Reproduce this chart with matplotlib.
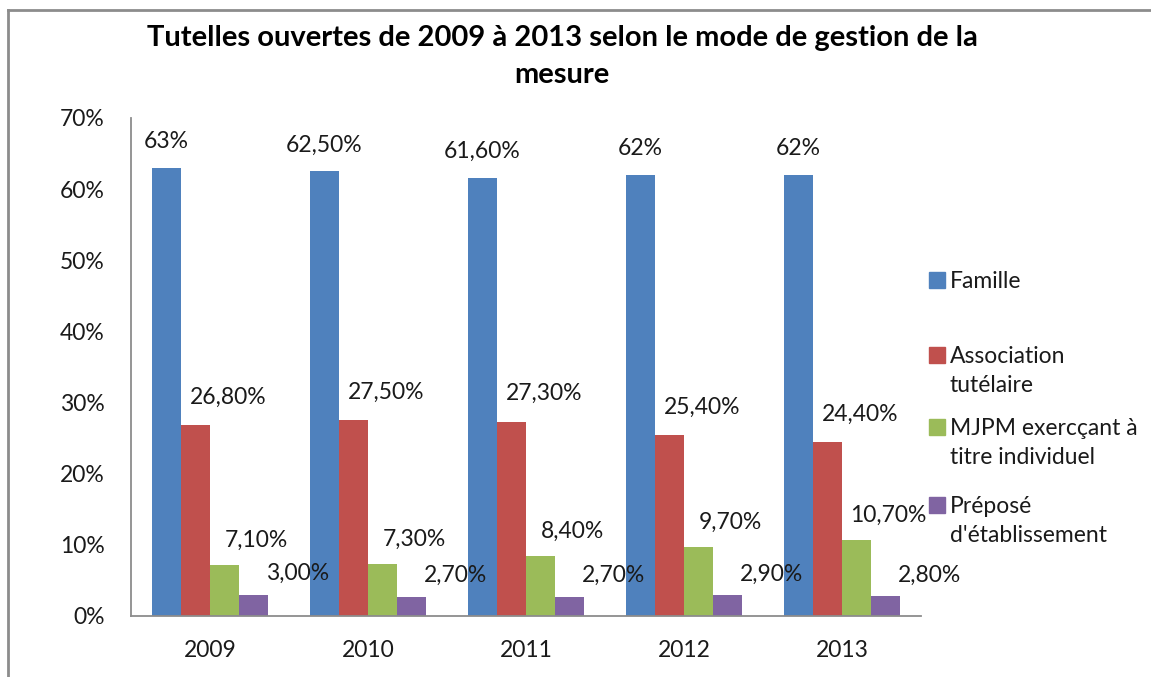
import matplotlib
matplotlib.use("Agg")
from matplotlib import pyplot as plt
from matplotlib.patches import Rectangle
from matplotlib.lines import Line2D
import numpy as np

plt.rcParams["font.family"] = ["Lato", "DejaVu Sans"]

# Donnees
years = ["2009", "2010", "2011", "2012", "2013"]
series = ["Famille", "Association\ntutélaire",
          "MJPM exercçant à\ntitre individuel", "Préposé\nd'établissement"]
famille = [63.0, 62.5, 61.6, 62.0, 62.0]
association = [26.8, 27.5, 27.3, 25.4, 24.4]
mjpm = [7.1, 7.3, 8.4, 9.7, 10.7]
prepose = [3.0, 2.7, 2.7, 2.9, 2.8]
labels = [
    ["63%", "62,50%", "61,60%", "62%", "62%"],
    ["26,80%", "27,50%", "27,30%", "25,40%", "24,40%"],
    ["7,10%", "7,30%", "8,40%", "9,70%", "10,70%"],
    ["3,00%", "2,70%", "2,70%", "2,90%", "2,80%"],
]
values = [famille, association, mjpm, prepose]
colors = ["#4F81BD", "#C0504D", "#9BBB59", "#8064A2"]

W, H = 1151, 677
fig = plt.figure(figsize=(W / 100, H / 100), dpi=100)
ax = fig.add_axes([131 / W, 1 - 616 / H, (921 - 131) / W, (616 - 118) / H])

x = np.arange(len(years))
bw = 0.1835
fs = 16.5
# decalage des etiquettes (pixels) par serie
lab_dx = [0, 33, 32, 44]
lab_dy = [26, 28, 25, 21]
for i, vals in enumerate(values):
    pos = x - 1.5 * bw + i * bw
    ax.bar(pos, vals, width=bw, color=colors[i], linewidth=0)
    for p, v, t in zip(pos, vals, labels[i]):
        ax.annotate(t, (p, v), xytext=(lab_dx[i] * 0.72, lab_dy[i] * 0.72),
                    textcoords="offset points", ha="center", va="center",
                    fontsize=fs, color="#1a1a1a")

ax.set_xlim(-0.5, len(years) - 0.5)
ax.set_ylim(0, 70)
ax.set_yticks(np.arange(0, 71, 10))
ax.set_yticklabels([f"{v}%" for v in range(0, 71, 10)])
ax.set_xticks(x)
ax.set_xticklabels(years)
ax.tick_params(length=0, labelsize=fs, labelcolor="#1a1a1a")
ax.tick_params(axis="y", pad=19)
ax.tick_params(axis="x", pad=17)
for s in ["top", "right"]:
    ax.spines[s].set_visible(False)
for s in ["left", "bottom"]:
    ax.spines[s].set_color("#8c8c8c")
    ax.spines[s].set_linewidth(1.3)

fig.text(562 / W, 1 - 38 / H, "Tutelles ouvertes de 2009 à 2013 selon le mode de gestion de la",
         ha="center", va="center", fontsize=21, fontweight="bold")
fig.text(562 / W, 1 - 75 / H, "mesure", ha="center", va="center",
         fontsize=21, fontweight="bold")

# legende
leg_y = [280, 355, 427, 505]
for i, name in enumerate(series):
    y0 = leg_y[i]
    fig.patches.append(Rectangle((929 / W, 1 - (y0 + 8) / H), 16 / W, 16 / H,
                                 transform=fig.transFigure, color=colors[i]))
    fig.text(950 / W, 1 - (y0 - 9) / H, name, ha="left", va="top",
             fontsize=fs, color="#1a1a1a", linespacing=1.5)

# cadre
fig.add_artist(Line2D([8 / W, 8 / W], [0, 1 - 10 / H], transform=fig.transFigure,
                      color="#8c8c8c", lw=2))
fig.add_artist(Line2D([8 / W, 1], [1 - 10 / H, 1 - 10 / H], transform=fig.transFigure,
                      color="#8c8c8c", lw=2))

fig.savefig("out.png", dpi=100)
